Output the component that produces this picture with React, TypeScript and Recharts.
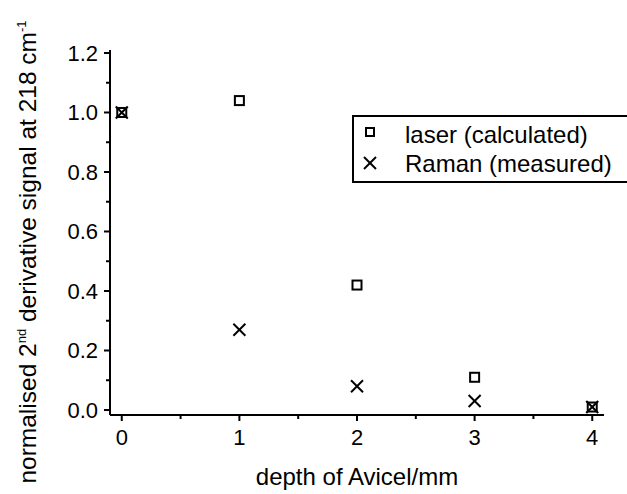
import React from "react";
import { ScatterChart, Scatter, XAxis, YAxis, Legend } from "recharts";

const depths = [0, 1, 2, 3, 4];
const laserValues = [1.0, 1.04, 0.42, 0.11, 0.01];
const ramanValues = [1.0, 0.27, 0.08, 0.03, 0.01];
const xTicks = [0, 0.5, 1, 1.5, 2, 2.5, 3, 3.5, 4];
const yTicks = [0, 0.1, 0.2, 0.3, 0.4, 0.5, 0.6, 0.7, 0.8, 0.9, 1.0, 1.1, 1.2];

const laserData = depths.map((d, i) => ({ x: d, y: laserValues[i] }));
const ramanData = depths.map((d, i) => ({ x: d, y: ramanValues[i] }));

const FONT = "'Liberation Sans', Arial, sans-serif";

const SquareDot = (props: any) => {
  const { cx, cy } = props;
  return <rect x={cx - 4.5} y={cy - 4.5} width={9} height={9} fill="none" stroke="#000" strokeWidth={2} />;
};

const CrossDot = (props: any) => {
  const { cx, cy } = props;
  const r = 6;
  return (
    <g stroke="#000" strokeWidth={2}>
      <line x1={cx - r} y1={cy - r} x2={cx + r} y2={cy + r} />
      <line x1={cx - r} y1={cy + r} x2={cx + r} y2={cy - r} />
    </g>
  );
};

const XTick = (props: any) => {
  const { x, y, payload } = props;
  const major = Number.isInteger(payload.value);
  return (
    <g>
      <line x1={x} y1={y} x2={x} y2={y + (major ? 6 : 4)} stroke="#000" strokeWidth={2} />
      {major && (
        <text x={x} y={y + 30} textAnchor="middle" fontSize={22} fontFamily={FONT} fill="#000">
          {payload.value}
        </text>
      )}
    </g>
  );
};

const YTick = (props: any) => {
  const { x, y, payload } = props;
  const v = Math.round(payload.value * 10);
  const major = v % 2 === 0;
  return (
    <g>
      <line x1={x} y1={y} x2={x - (major ? 6 : 4)} y2={y} stroke="#000" strokeWidth={2} />
      {major && (
        <text x={x - 12} y={y + 8} textAnchor="end" fontSize={22} fontFamily={FONT} fill="#000">
          {(v / 10).toFixed(1)}
        </text>
      )}
    </g>
  );
};

const XLabel = () => (
  <text x={357} y={485} textAnchor="middle" fontSize={24} fontFamily={FONT} fill="#000">
    depth of Avicel/mm
  </text>
);

const YLabel = () => (
  <text
    transform="translate(36, 252) rotate(-90)"
    textAnchor="middle"
    fontSize={24.5}
    fontFamily={FONT}
    fill="#000"
  >
    <tspan>normalised 2</tspan>
    <tspan fontSize={13} dy={-10}>nd</tspan>
    <tspan dy={10}> derivative signal at 218 cm</tspan>
    <tspan fontSize={13} dy={-10}>-1</tspan>
  </text>
);

const LegendBox = () => (
  <svg width={290} height={68} style={{ display: "block" }}>
    <rect x={1} y={1} width={300} height={66} fill="#fff" stroke="#000" strokeWidth={2} />
    <rect x={14} y={13} width={8} height={8} fill="none" stroke="#000" strokeWidth={2} />
    <g stroke="#000" strokeWidth={2}>
      <line x1={12} y1={42} x2={24} y2={54} />
      <line x1={12} y1={54} x2={24} y2={42} />
    </g>
    <text x={53} y={28} fontSize={24} fontFamily={FONT} fill="#000">laser (calculated)</text>
    <text x={53} y={57} fontSize={24} fontFamily={FONT} fill="#000">Raman (measured)</text>
  </svg>
);

export default function App() {
  return (
    <div style={{ position: "absolute", left: 0, top: 0, width: 627, height: 494, overflow: "hidden", background: "#fff" }}>
      <ScatterChart width={627} height={494} margin={{ top: 50, right: 23, left: 0, bottom: 0 }}>
        <XAxis
          type="number"
          dataKey="x"
          domain={[-0.1, 4.1]}
          ticks={xTicks}
          interval={0}
          tickSize={0}
          tickMargin={0}
          tickLine={false}
          tick={<XTick />}
          height={79}
          axisLine={{ stroke: "#000", strokeWidth: 2 }}
          label={<XLabel />}
        />
        <YAxis
          type="number"
          dataKey="y"
          domain={[-0.0168, 1.21]}
          ticks={yTicks}
          interval={0}
          tickSize={0}
          tickMargin={0}
          tickLine={false}
          tick={<YTick />}
          width={110}
          axisLine={{ stroke: "#000", strokeWidth: 2 }}
          label={<YLabel />}
        />
        <Legend
          layout="horizontal"
          verticalAlign="middle"
          content={<LegendBox />}
          wrapperStyle={{ position: "absolute", left: 352, top: 115, width: 290, height: 68 }}
        />
        <Scatter name="laser (calculated)" data={laserData} shape={<SquareDot />} isAnimationActive={false} />
        <Scatter name="Raman (measured)" data={ramanData} shape={<CrossDot />} isAnimationActive={false} />
      </ScatterChart>
    </div>
  );
}
